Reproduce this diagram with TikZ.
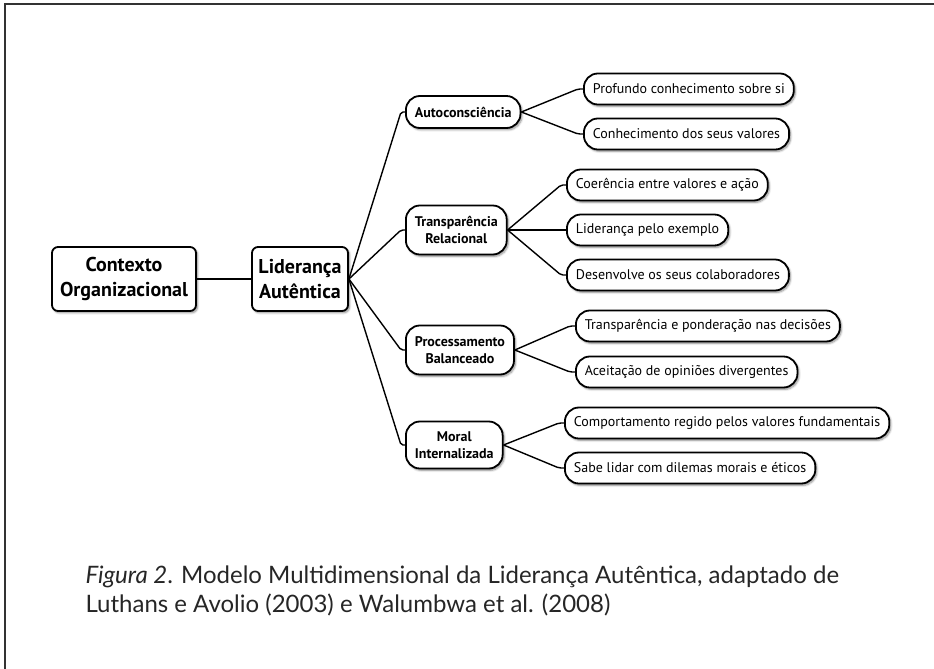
\documentclass[tikz,border=0pt]{standalone}
\usepackage{fontspec}
\setmainfont{PT Sans}
\newfontfamily\capfont{Lato}
\usetikzlibrary{shadows.blur}
\begin{document}
\begin{tikzpicture}[x=1pt,y=-1pt,
  frameline/.style={draw=black!80, line width=1.4pt},
  softshadow/.style={blur shadow={shadow xshift=1.5pt, shadow yshift=-1.8pt, shadow blur steps=6, shadow opacity=45}},
  mainbox/.style={draw, line width=1.8pt, rounded corners=6pt, fill=white, softshadow,
    align=center, font=\bfseries\fontsize{20}{25}\selectfont, minimum height=64pt, inner sep=0pt},
  dimbox/.style={draw, line width=1.8pt, rounded corners=14pt, fill=white, softshadow,
    align=center, font=\bfseries\fontsize{14}{16.5}\selectfont, inner xsep=9pt, inner ysep=0pt,
    anchor=west},
  leafbox/.style={draw, line width=1.8pt, rounded corners=14pt, fill=white, softshadow,
    font=\fontsize{14}{16}\selectfont, inner xsep=9pt, inner ysep=0pt, minimum height=31pt,
    anchor=west},
  link/.style={draw, line width=1.4pt, rounded corners=2pt},
  captext/.style={anchor=base west, text=black!85, font=\capfont\fontsize{24}{30}\selectfont}
]
\useasboundingbox (0,0) rectangle (934,669);

% page frame
\draw[frameline] (5,669) -- (5,4) -- (934,4);

% root and core
\node[mainbox, minimum width=144pt] (ctx) at (124,279) {Contexto\\Organizacional};
\node[mainbox, minimum width=96pt] (lid) at (300,279) {Liderança\\Autêntica};

% dimensions
\node[dimbox, minimum height=32pt] (d1) at (405,112) {Autoconsciência};
\node[dimbox, minimum height=49pt] (d2) at (405,230) {Transparência\\Relacional};
\node[dimbox, minimum height=49pt] (d3) at (405,350) {Processamento\\Balanceado};
\node[dimbox, minimum height=47pt] (d4) at (405,445) {Moral\\Internalizada};

% components
\node[leafbox] (l11) at (583,89)  {Profundo conhecimento sobre si};
\node[leafbox] (l12) at (583,134) {Conhecimento dos seus valores};
\node[leafbox] (l21) at (566,185) {Coerência entre valores e ação};
\node[leafbox] (l22) at (566,230) {Liderança pelo exemplo};
\node[leafbox] (l23) at (566,275) {Desenvolve os seus colaboradores};
\node[leafbox] (l31) at (575,326) {Transparência e ponderação nas decisões};
\node[leafbox] (l32) at (575,372) {Aceitação de opiniões divergentes};
\node[leafbox] (l41) at (564,423) {Comportamento regido pelos valores fundamentais};
\node[leafbox] (l42) at (564,468) {Sabe lidar com dilemas morais e éticos};

% connectors
\draw[link] (ctx.east) -- (lid.west);
\foreach \d in {d1,d2,d3,d4}
  \draw[link] (lid.east) -- ([xshift=-4pt]\d.west) -- (\d.west);
\foreach \s/\t in {d1/l11,d1/l12,d2/l21,d2/l22,d2/l23,d3/l31,d3/l32,d4/l41,d4/l42}
  \draw[link] (\s.east) -- ([xshift=-5pt]\t.west) -- (\t.west);

% caption
\node[captext] (cap1) at (82,583) {\textit{Figura 2}. Modelo Multidimensional da Liderança Autêntica, adaptado de};
\node[captext] (cap2) at (82,612) {Luthans e Avolio (2003) e Walumbwa et al. (2008)};
\end{tikzpicture}
\end{document}
